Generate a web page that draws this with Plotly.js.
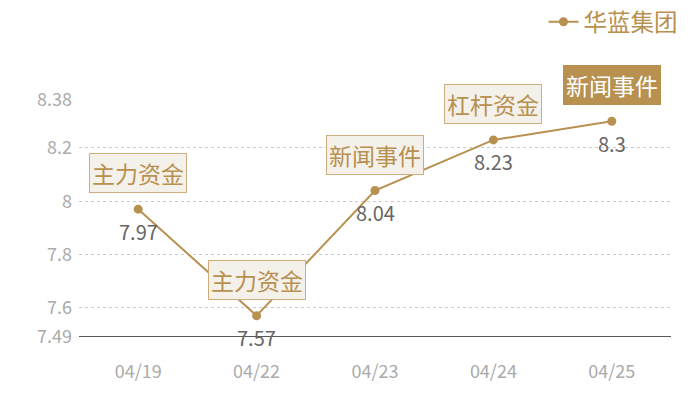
<!DOCTYPE html>
<html><head><meta charset="utf-8">
<script src="https://cdn.plot.ly/plotly-3.0.1.min.js"></script>
<style>body{margin:0}#c{width:700px;height:400px}</style>
</head><body><div id="c"></div>
<script>
const dates = ["04/19","04/22","04/23","04/24","04/25"];
const values = [7.97, 7.57, 8.04, 8.23, 8.3];
const events = ["主力资金","主力资金","新闻事件","杠杆资金","新闻事件"];
const highlight = [false,false,false,false,true];
const yTicks = [7.49, 7.6, 7.8, 8, 8.2, 8.38];
const seriesName = "华蓝集团";

const gold = "#b8904f";
const font = "'Noto Sans CJK SC', 'Noto Sans', sans-serif";

const trace = {
  x: dates, y: values, type: "scatter", mode: "lines+markers",
  name: seriesName,
  line: {color: gold, width: 2},
  marker: {color: gold, size: 9},
  cliponaxis: false
};

const eventNotes = dates.map((d, i) => ({
  x: d, y: values[i], xref: "x", yref: "y",
  text: events[i], showarrow: false, yshift: 36,
  font: {size: 23, color: highlight[i] ? "#fff" : "#b89050", family: font},
  bgcolor: highlight[i] ? gold : "#f4f0ea",
  bordercolor: highlight[i] ? gold : "#cfae7e",
  borderwidth: 1, borderpad: 2
}));
const valueNotes = dates.map((d, i) => ({
  x: d, y: values[i], xref: "x", yref: "y",
  text: String(values[i]), showarrow: false, yshift: -22,
  font: {size: 20, color: "#666", family: font}
}));

const layout = {
  width: 700, height: 400,
  margin: {l: 79, r: 29, t: 100, b: 63, autoexpand: false},
  paper_bgcolor: "#fff", plot_bgcolor: "#fff",
  font: {family: font},
  showlegend: true,
  legend: {xref: "container", yref: "container", x: 0.975, xanchor: "right", y: 1.01, yanchor: "top",
    font: {size: 23.5, color: "#b89050", family: font}, bgcolor: "rgba(0,0,0,0)", itemwidth: 30},
  xaxis: {type: "category", range: [-0.5, 4.5], showgrid: false, zeroline: false,
    showline: false, ticks: "", tickfont: {size: 18, color: "#aaa", family: font}, ticklabelstandoff: 22},
  yaxis: {range: [7.49, 8.38], tickvals: yTicks, ticktext: yTicks.map(String),
    showgrid: true, gridcolor: "#ccc", griddash: "dot", gridwidth: 1, zeroline: false,
    showline: false, ticks: "", tickfont: {size: 18, color: "#aaa", family: font}, ticklabelstandoff: 6},
  shapes: [{type: "line", xref: "paper", yref: "y", x0: 0, x1: 1, y0: 7.49, y1: 7.49, layer: "above", line: {color: "#222", width: 1.3}}],
  annotations: valueNotes.concat(eventNotes)
};
Plotly.newPlot("c", [trace], layout, {displayModeBar: false, staticPlot: true});
</script></body></html>
